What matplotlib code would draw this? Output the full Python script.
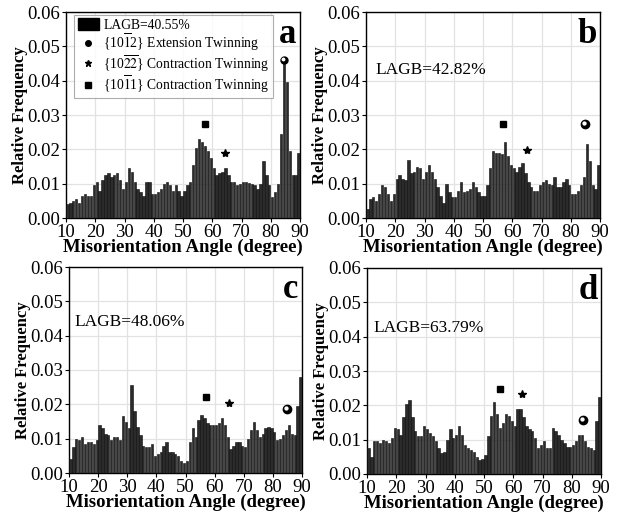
import numpy as np
import matplotlib
matplotlib.use('Agg')
import matplotlib.pyplot as plt
from matplotlib.patches import Patch
from matplotlib.lines import Line2D

plt.rcParams['font.family'] = 'Liberation Serif'
plt.rcParams['mathtext.fontset'] = 'stix'

# bin centres, 1 degree bins from 10 to 90
angles = np.arange(10.5, 90, 1.0)

freq_a = [0.004, 0.0045, 0.005, 0.0055, 0.0045, 0.0065, 0.007, 0.0065, 0.0065, 0.0095,
          0.0105, 0.008, 0.011, 0.0125, 0.013, 0.012, 0.0125, 0.013, 0.011, 0.0085,
          0.0105, 0.0145, 0.0135, 0.0105, 0.0085, 0.0075, 0.0065, 0.0105, 0.0105, 0.007,
          0.007, 0.0075, 0.0085, 0.0100, 0.0105, 0.0095, 0.008, 0.0095, 0.008, 0.0065,
          0.008, 0.0095, 0.0105, 0.0155, 0.0205, 0.023, 0.022, 0.021, 0.0195, 0.0175,
          0.0145, 0.0125, 0.013, 0.0135, 0.0145, 0.0125, 0.0105, 0.0105, 0.0095, 0.0100,
          0.0105, 0.0105, 0.0103, 0.010, 0.0095, 0.0085, 0.0100, 0.0165, 0.0125, 0.0095,
          0.0060, 0.0075, 0.010, 0.0245, 0.046, 0.0395, 0.0195, 0.0125, 0.0125, 0.019]

freq_b = [0.0025, 0.0055, 0.006, 0.005, 0.007, 0.0095, 0.009, 0.007, 0.005, 0.007,
          0.0115, 0.0125, 0.0115, 0.011, 0.017, 0.013, 0.0135, 0.015, 0.0145, 0.0115,
          0.0135, 0.0155, 0.0135, 0.0115, 0.009, 0.0065, 0.0045, 0.010, 0.0075, 0.006,
          0.006, 0.008, 0.0105, 0.0075, 0.008, 0.0085, 0.0105, 0.009, 0.0075, 0.0065,
          0.0065, 0.0095, 0.0145, 0.0195, 0.019, 0.019, 0.0185, 0.022, 0.018, 0.0155,
          0.0145, 0.0135, 0.015, 0.016, 0.013, 0.0105, 0.009, 0.008, 0.008, 0.0095,
          0.0105, 0.011, 0.010, 0.0095, 0.012, 0.009, 0.009, 0.0105, 0.0115, 0.0095,
          0.007, 0.007, 0.008, 0.0095, 0.012, 0.0215, 0.0165, 0.0095, 0.0085, 0.0155]

freq_c = [0.004, 0.0075, 0.010, 0.0095, 0.0105, 0.0085, 0.009, 0.009, 0.0085, 0.0095,
          0.014, 0.013, 0.0115, 0.011, 0.0095, 0.0105, 0.0105, 0.0095, 0.0165, 0.015,
          0.013, 0.0255, 0.018, 0.0135, 0.011, 0.008, 0.0075, 0.0075, 0.0085, 0.005,
          0.0055, 0.006, 0.008, 0.009, 0.006, 0.006, 0.0055, 0.005, 0.0035, 0.003,
          0.0035, 0.009, 0.013, 0.0105, 0.0155, 0.017, 0.016, 0.0145, 0.014, 0.014,
          0.014, 0.0145, 0.016, 0.014, 0.0105, 0.007, 0.008, 0.009, 0.009, 0.008,
          0.0075, 0.010, 0.0125, 0.015, 0.0125, 0.0105, 0.0115, 0.013, 0.0135, 0.013,
          0.012, 0.0095, 0.010, 0.011, 0.0125, 0.014, 0.0115, 0.011, 0.0195, 0.028]

freq_d = [0.0075, 0.005, 0.0095, 0.0095, 0.009, 0.010, 0.0095, 0.009, 0.0105, 0.0135,
          0.013, 0.0115, 0.0165, 0.0205, 0.0215, 0.0165, 0.0125, 0.011, 0.011, 0.014,
          0.013, 0.012, 0.011, 0.0095, 0.0075, 0.006, 0.0065, 0.010, 0.013, 0.0105,
          0.0115, 0.014, 0.0115, 0.0085, 0.0075, 0.007, 0.0065, 0.005, 0.004, 0.0045,
          0.0055, 0.011, 0.017, 0.021, 0.0175, 0.0135, 0.015, 0.0175, 0.017, 0.0155,
          0.014, 0.019, 0.019, 0.0165, 0.014, 0.013, 0.0125, 0.0105, 0.0075, 0.0085,
          0.0095, 0.0075, 0.0075, 0.0135, 0.0125, 0.0115, 0.010, 0.009, 0.008, 0.008,
          0.0085, 0.0095, 0.0115, 0.0115, 0.0095, 0.008, 0.0075, 0.007, 0.0155, 0.0225]

panel_letters = ['a', 'b', 'c', 'd']
lagb = ['40.55%', '42.82%', '48.06%', '63.79%']

# marker positions (angle, frequency) for each panel
square_pts = [(57.5, 0.0275), (57.0, 0.0273), (57.0, 0.022), (55.5, 0.0248)]
star_pts = [(64.5, 0.019), (65.0, 0.0197), (65.0, 0.0205), (63.0, 0.0233)]
sphere_pts = [(84.5, 0.046), (85.0, 0.0273), (85.0, 0.0185), (84.0, 0.0157)]

all_freq = [freq_a, freq_b, freq_c, freq_d]

fig = plt.figure(figsize=(6.25, 5.15), dpi=100)
# axes rectangles in figure fractions [left, bottom, width, height]
rects = [[66/625, 1-218/515, 234/625, 206/515],
         [366/625, 1-218/515, 234/625, 206/515],
         [69/625, 1-473/515, 233/625, 206/515],
         [367/625, 1-474/515, 234/625, 206/515]]
# where the LAGB note sits in panels b-d (axes fractions)
note_pos = [None, (0.04, 0.72), (0.025, 0.735), (0.026, 0.71)]

def draw_sphere(ax, x, y, s):
    ax.plot(x, y, 'o', color='black', markersize=s, zorder=5)
    ax.plot(x - 0.35, y + 0.0003, 'o', color='white', markersize=s * 0.35, zorder=6)

for i in range(4):
    ax = fig.add_axes(rects[i])
    ax.bar(angles, all_freq[i], width=0.8, color='#2b2b2b', edgecolor='#0a0a0a',
           linewidth=0.4, zorder=3)
    ax.set_xlim(10, 90)
    ax.set_ylim(0, 0.06)
    ax.set_xticks(np.arange(10, 91, 10))
    ax.set_yticks(np.arange(0, 0.061, 0.01))
    ax.set_yticklabels(['%.2f' % v for v in np.arange(0, 0.061, 0.01)])
    ax.grid(True, color='#e2e2e2', linewidth=0.9, zorder=0)
    ax.tick_params(labelsize=13.5, length=3, width=0.8, pad=1)
    for sp in ax.spines.values():
        sp.set_linewidth(1.0)
    ax.set_xlabel('Misorientation Angle (degree)', fontsize=13.5, fontweight='bold', labelpad=-1)
    ax.set_ylabel('Relative Frequency', fontsize=12, fontweight='bold', labelpad=0)
    ax.text(0.985, 0.85, panel_letters[i], transform=ax.transAxes, ha='right', va='baseline',
            fontsize=25, fontweight='bold', zorder=7)

    sx, sy = square_pts[i]
    ax.plot(sx, sy, 's', color='black', markersize=5, zorder=5)
    tx, ty = star_pts[i]
    ax.plot(tx, ty, '*', color='black', markersize=6, zorder=5)
    cx, cy = sphere_pts[i]
    draw_sphere(ax, cx, cy, 6 if i else 5)

    if i == 0:
        handles = [Patch(facecolor='black', edgecolor='black'),
                   Line2D([], [], marker='o', color='black', linestyle='none', markersize=4),
                   Line2D([], [], marker='*', color='black', linestyle='none', markersize=5),
                   Line2D([], [], marker='s', color='black', linestyle='none', markersize=4)]
        labels = ['LAGB=' + lagb[0],
                  r'{10$\overline{1}$2} Extension Twinning',
                  r'{10$\overline{22}$} Contraction Twinning',
                  r'{10$\overline{1}$1} Contraction Twinning']
        leg = ax.legend(handles, labels, loc='upper left', bbox_to_anchor=(0.035, 0.985),
                        fontsize=9.8, frameon=True, fancybox=False, handlelength=1.6,
                        handleheight=0.9, handletextpad=0.3, labelspacing=0.0,
                        borderpad=0.25, borderaxespad=0.0)
        leg.get_frame().set_edgecolor('#999999')
        leg.get_frame().set_linewidth(0.8)
        leg.set_zorder(8)
    else:
        nx, ny = note_pos[i]
        ax.text(nx, ny, 'LAGB=' + lagb[i], transform=ax.transAxes, ha='left',
                va='center', fontsize=12.5)

fig.savefig('out.png', dpi=100)
